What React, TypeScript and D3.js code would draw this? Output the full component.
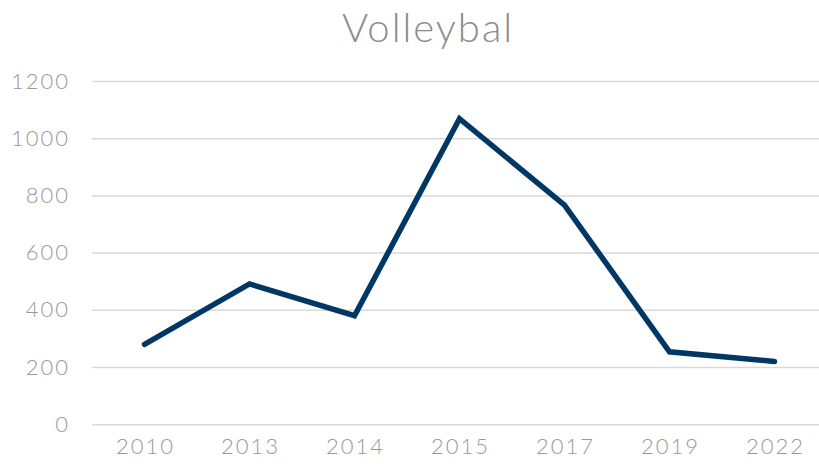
import React from "react";
import * as d3 from "d3";

const categories = ["2010", "2013", "2014", "2015", "2017", "2019", "2022"];
const values = [281, 492, 381, 1070, 768, 255, 221];
const yTicks = [0, 200, 400, 600, 800, 1000, 1200];
const title = "Volleybal";

export default function App() {
  const W = 819, H = 468;
  const x = d3.scaleBand<string>().domain(categories).range([92, 827]);
  const y = d3.scaleLinear().domain([0, 1200]).range([424.7, 81.5]);
  const line = d3
    .line<number>()
    .x((_, i) => (x(categories[i]) as number) + x.bandwidth() / 2)
    .y((d) => y(d));
  const font = "'Lato', 'Open Sans', sans-serif";
  return (
    <svg
      width={W}
      height={H}
      style={{ position: "absolute", left: 0, top: 0, background: "#fff" }}
      fontFamily={font}
    >
      <text x={428} y={41.5} textAnchor="middle" fontSize={40} fill="#8c8c8c" fontWeight={300} letterSpacing={2}>
        {title}
      </text>
      {yTicks.map((t) => (
        <g key={t}>
          <line x1={92} x2={W} y1={y(t)} y2={y(t)} stroke="#d9d9d9" strokeWidth={1.5} />
          <text x={70} y={y(t) + 7} textAnchor="end" fontSize={22} fill="#999" fontWeight={300} letterSpacing={2}>
            {t}
          </text>
        </g>
      ))}
      {categories.map((c) => (
        <text
          key={c}
          x={(x(c) as number) + x.bandwidth() / 2 + 1}
          y={454}
          textAnchor="middle"
          fontSize={22}
          fill="#999"
          fontWeight={300}
          letterSpacing={2}
        >
          {c}
        </text>
      ))}
      <path d={line(values) || ""} fill="none" stroke="#003764" strokeWidth={5.5} strokeLinejoin="miter" strokeLinecap="round" />
    </svg>
  );
}
